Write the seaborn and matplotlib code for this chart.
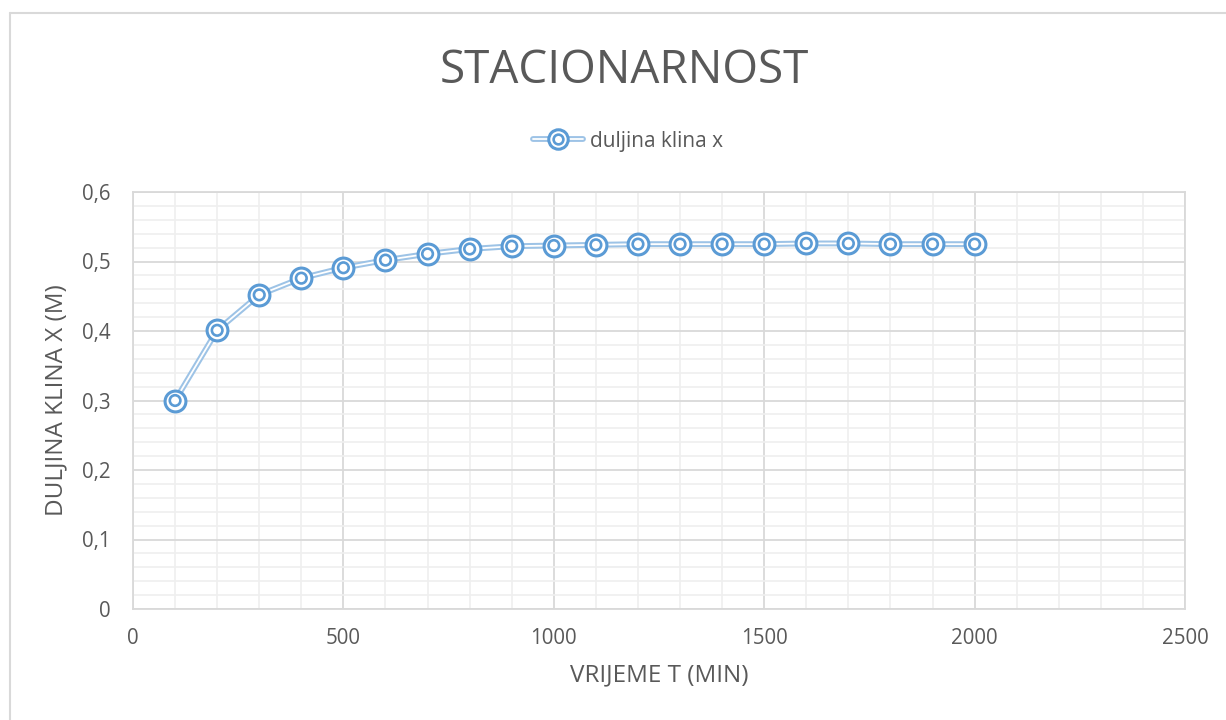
import matplotlib
matplotlib.use("Agg")
import matplotlib.pyplot as plt
from matplotlib.lines import Line2D
from matplotlib.legend_handler import HandlerTuple
from matplotlib.ticker import MultipleLocator, FuncFormatter
import pandas as pd
import seaborn as sns

# Data
vrijeme = [100, 200, 300, 400, 500, 600, 700, 800, 900, 1000,
           1100, 1200, 1300, 1400, 1500, 1600, 1700, 1800, 1900, 2000]
duljina = [0.300, 0.401, 0.452, 0.476, 0.491, 0.502, 0.511, 0.518, 0.522, 0.523,
           0.524, 0.525, 0.525, 0.525, 0.525, 0.526, 0.526, 0.525, 0.525, 0.525]
x_ticks = [0, 500, 1000, 1500, 2000, 2500]
y_ticks = [0, 0.1, 0.2, 0.3, 0.4, 0.5, 0.6]
naslov = "STACIONARNOST"
serija = "duljina klina x"
x_naziv = "VRIJEME T (MIN)"
y_naziv = "DULJINA KLINA X (M)"

df = pd.DataFrame({"t": vrijeme, "x": duljina})

sns.set_theme(style="white")
plt.rcParams["font.family"] = ["Open Sans", "DejaVu Sans"]

TXT = "#595959"
LINE_OUT = "#9DC3E6"
MARK = "#5B9BD5"

fig = plt.figure(figsize=(12.26, 7.2), dpi=100)
ax = fig.add_axes([133 / 1226, 1 - 609 / 720, (1185 - 133) / 1226, (609 - 192) / 720])

# Double line: light blue stroke with a white core
sns.lineplot(data=df, x="t", y="x", ax=ax, color=LINE_OUT, lw=4.2, zorder=3, legend=False)
sns.lineplot(data=df, x="t", y="x", ax=ax, color="white", lw=1.3, zorder=4, legend=False)
# Bullseye markers
sns.scatterplot(data=df, x="t", y="x", ax=ax, s=225, marker="o", facecolor="white",
                edgecolor=MARK, linewidth=2.2, zorder=5, legend=False)
sns.scatterplot(data=df, x="t", y="x", ax=ax, s=58, marker="o", facecolor="none",
                edgecolor=MARK, linewidth=1.9, zorder=6, legend=False)

ax.set_xlim(0, 2500)
ax.set_ylim(0, 0.6)
ax.set_xticks(x_ticks)
ax.set_yticks(y_ticks)
ax.xaxis.set_minor_locator(MultipleLocator(100))
ax.yaxis.set_minor_locator(MultipleLocator(0.02))
ax.yaxis.set_major_formatter(FuncFormatter(lambda v, p: ("%g" % round(v, 2)).replace(".", ",")))
ax.xaxis.set_major_formatter(FuncFormatter(lambda v, p: "%d" % v))

ax.grid(which="major", color="#D9D9D9", lw=1.3, zorder=1)
ax.grid(which="minor", color="#EFEFEF", lw=1.2, zorder=0)
ax.set_axisbelow(True)
for s in ax.spines.values():
    s.set_color("#D9D9D9")
    s.set_linewidth(1.3)

ax.tick_params(axis="both", which="both", length=0, labelsize=14.8, colors=TXT)
ax.tick_params(axis="x", pad=14)
ax.tick_params(axis="y", pad=16)

ax.set_xlabel(x_naziv, fontsize=17.5, color=TXT, labelpad=10)
ax.set_ylabel(y_naziv, fontsize=17.5, color=TXT, labelpad=10)

fig.text(0.509, 0.902, naslov, ha="center", va="center", fontsize=33, color=TXT)

# Legend entry with the same double line and bullseye
h_line_out = Line2D([], [], color=LINE_OUT, lw=4.2)
h_line_in = Line2D([], [], color="white", lw=1.3)
h_mark_out = Line2D([], [], ls="none", marker="o", markersize=14, markerfacecolor="white",
                    markeredgecolor=MARK, markeredgewidth=2.2)
h_mark_in = Line2D([], [], ls="none", marker="o", markersize=7, markerfacecolor="none",
                   markeredgecolor=MARK, markeredgewidth=1.9)
fig.legend([(h_line_out, h_line_in, h_mark_out, h_mark_in)], [serija],
           handler_map={tuple: HandlerTuple(ndivide=1)},
           loc="center", bbox_to_anchor=(0.512, 0.804), frameon=False,
           fontsize=15, labelcolor=TXT, handlelength=2.4, handletextpad=0.35)

# Chart frame
fig.add_artist(Line2D([10 / 1226, 10 / 1226], [0, 1 - 13 / 720], transform=fig.transFigure,
                      color="#D9D9D9", lw=1.5))
fig.add_artist(Line2D([10 / 1226, 1], [1 - 13 / 720, 1 - 13 / 720], transform=fig.transFigure,
                      color="#D9D9D9", lw=1.5))

fig.savefig("out.png", dpi=100)
